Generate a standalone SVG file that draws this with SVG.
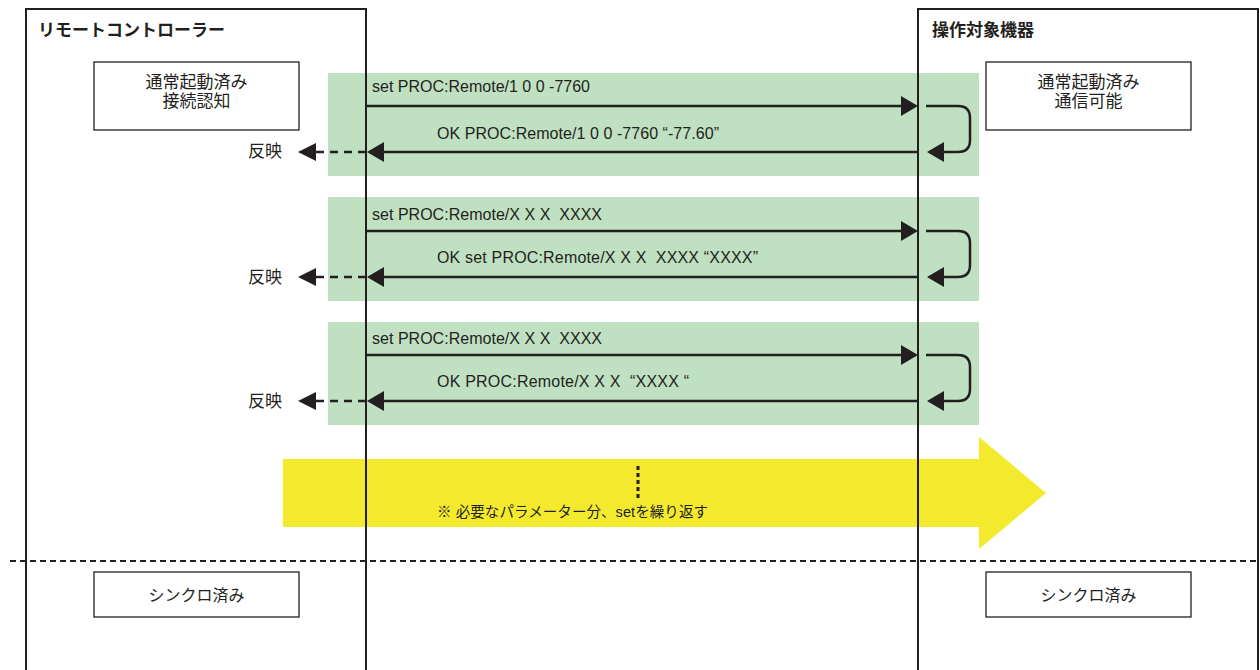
<svg xmlns="http://www.w3.org/2000/svg" width="1260" height="670" viewBox="0 0 1260 670">
  <defs>
    <style>
      .lane { fill: none; stroke: #231f20; stroke-width: 2; }
      .box { fill: #ffffff; stroke: #231f20; stroke-width: 1.3; }
      .band { fill: #c0e1c1; }
      .ja { font-family: "Liberation Sans", "Noto Sans CJK JP", sans-serif; fill: #231f20; }
      .title { font-size: 17px; font-weight: bold; }
      .state { font-size: 17px; text-anchor: middle; }
      .sync { font-size: 16px; text-anchor: middle; }
      .msg { font-family: "Liberation Sans", "Noto Sans CJK JP", sans-serif; font-size: 16px; fill: #231f20; white-space: pre; }
      .line { fill: none; stroke: #231f20; stroke-width: 2.5; }
      .dash { fill: none; stroke: #231f20; stroke-width: 2.5; stroke-dasharray: 8 6; }
      .head { fill: #231f20; }
    </style>
  </defs>

  <rect width="1260" height="670" fill="#ffffff"/>

  <!-- message exchange bands -->
  <g id="bands">
    <rect class="band" x="328" y="73" width="651" height="103"/>
    <rect class="band" x="328" y="197" width="651" height="104"/>
    <rect class="band" x="328" y="322" width="651" height="103"/>
  </g>

  <!-- repeat indicator -->
  <g id="repeat">
    <polygon points="283,459 979,459 979,437 1046,493 979,549 979,527 283,527" fill="#f3ea2e"/>
    <line x1="638" y1="466" x2="638" y2="498" stroke="#231f20" stroke-width="3" stroke-dasharray="4 3"/>
    <text class="ja" x="437" y="517" font-size="14.5" textLength="271">※ 必要なパラメーター分、setを繰り返す</text>
  </g>

  <!-- remote controller lane -->
  <g id="controller">
    <path class="lane" d="M26,672 V9 H366 V672"/>
    <text class="ja title" x="38" y="36">リモートコントローラー</text>
  </g>

  <!-- target device lane -->
  <g id="device">
    <path class="lane" d="M918,672 V9 H1258 V672"/>
    <text class="ja title" x="932" y="36">操作対象機器</text>
  </g>

  <g id="controller-state">
    <rect class="box" x="94" y="62" width="205" height="68"/>
    <text class="ja state" x="196.5" y="88">通常起動済み</text>
    <text class="ja state" x="196.5" y="107">接続認知</text>
  </g>

  <g id="device-state">
    <rect class="box" x="986" y="62" width="205" height="68"/>
    <text class="ja state" x="1088.5" y="88">通常起動済み</text>
    <text class="ja state" x="1088.5" y="107">通信可能</text>
  </g>

  <!-- synchronisation boundary -->
  <line x1="10" y1="561" x2="1260" y2="561" stroke="#231f20" stroke-width="2" stroke-dasharray="6 4"/>

  <g id="controller-sync">
    <rect class="box" x="94" y="572" width="205" height="45"/>
    <text class="ja sync" x="196.5" y="601">シンクロ済み</text>
  </g>

  <g id="device-sync">
    <rect class="box" x="986" y="572" width="205" height="45"/>
    <text class="ja sync" x="1088.5" y="601">シンクロ済み</text>
  </g>

  <!-- messages -->
  <g id="connectors">
    <!-- exchange 1 -->
    <line class="line" x1="366" y1="106" x2="902" y2="106"/>
    <polygon class="head" points="918,106 901,96 901,116"/>
    <path class="line" d="M926,106 H958 Q970,106 970,118 V140 Q970,152 958,152 H942"/>
    <polygon class="head" points="927,152 944,142 944,162"/>
    <line class="line" x1="918" y1="152" x2="382" y2="152"/>
    <polygon class="head" points="367,152 384,142 384,162"/>
    <line class="dash" x1="366" y1="152" x2="314" y2="152"/>
    <polygon class="head" points="298,152 316,143 316,161"/>
    <text class="msg" x="372" y="92" textLength="218">set PROC:Remote/1 0 0 -7760</text>
    <text class="msg" x="437" y="139" textLength="282">OK PROC:Remote/1 0 0 -7760 “-77.60”</text>
    <text class="ja" x="248" y="157" font-size="17">反映</text>

    <!-- exchange 2 -->
    <line class="line" x1="366" y1="231" x2="902" y2="231"/>
    <polygon class="head" points="918,231 901,221 901,241"/>
    <path class="line" d="M926,231 H958 Q970,231 970,243 V265 Q970,277 958,277 H942"/>
    <polygon class="head" points="927,277 944,267 944,287"/>
    <line class="line" x1="918" y1="277" x2="382" y2="277"/>
    <polygon class="head" points="367,277 384,267 384,287"/>
    <line class="dash" x1="366" y1="277" x2="314" y2="277"/>
    <polygon class="head" points="298,277 316,268 316,286"/>
    <text class="msg" x="372" y="220" textLength="230">set PROC:Remote/X X X  XXXX</text>
    <text class="msg" x="437" y="263" textLength="321">OK set PROC:Remote/X X X  XXXX “XXXX”</text>
    <text class="ja" x="248" y="283" font-size="17">反映</text>

    <!-- exchange 3 -->
    <line class="line" x1="366" y1="355" x2="902" y2="355"/>
    <polygon class="head" points="918,355 901,345 901,365"/>
    <path class="line" d="M926,355 H958 Q970,355 970,367 V389 Q970,401 958,401 H942"/>
    <polygon class="head" points="927,401 944,391 944,411"/>
    <line class="line" x1="918" y1="401" x2="382" y2="401"/>
    <polygon class="head" points="367,401 384,391 384,411"/>
    <line class="dash" x1="366" y1="401" x2="314" y2="401"/>
    <polygon class="head" points="298,401 316,392 316,410"/>
    <text class="msg" x="372" y="344" textLength="230">set PROC:Remote/X X X  XXXX</text>
    <text class="msg" x="437" y="387" textLength="252">OK PROC:Remote/X X X  “XXXX “</text>
    <text class="ja" x="248" y="407" font-size="17">反映</text>
  </g>
</svg>
